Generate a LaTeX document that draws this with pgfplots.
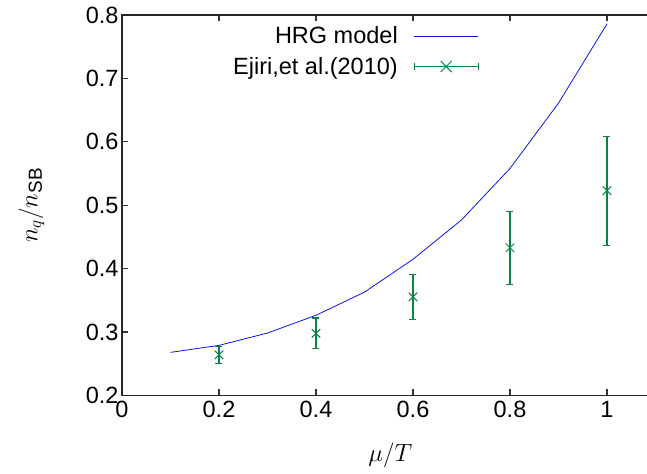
\documentclass[border=0pt]{standalone}
\usepackage{pgfplots}
\pgfplotsset{compat=1.18}
\usepackage{amsmath}
\usepackage{fontspec}
\setmainfont{Liberation Sans}
\definecolor{hrg}{RGB}{10,20,235}
\definecolor{ejg}{RGB}{10,130,70}
\begin{document}
\begin{tikzpicture}
\begin{axis}[name=ax, scale only axis, width=526.2pt, height=380.5pt,
  xmin=0, xmax=1.08498, ymin=0.2, ymax=0.8,
  xtick pos=both, ytick pos=left,
  axis line style={line width=1.1pt, black!85},
  tick align=inside, major tick length=6pt,
  tick style={line width=1.2pt, black!80},
  xtick={0,0.2,0.4,0.6,0.8,1}, ytick={0.2,0.3,0.4,0.5,0.6,0.7,0.8},
  /pgf/number format/assume math mode=true,
  /pgf/number format/fixed,
  tick label style={font=\fontsize{23.5}{23.5}\selectfont},
  xticklabel style={yshift=-2pt},
  label style={font=\fontsize{27}{27}\selectfont},
  xlabel={$\mu/T$}, ylabel={$n_q/n_{\text{SB}}$},
  xlabel style={at={(axis description cs:0.51,-0.158)}, anchor=center},
  ylabel style={at={(axis description cs:-0.172,0.5)}, anchor=center},
  legend plot pos=right, legend cell align=right,
  legend style={draw=none, fill=none, font=\fontsize{23.5}{23.5}\selectfont,
    at={(axis cs:0.742,0.788)}, anchor=north east, row sep=8pt},
]
\addplot[hrg, line width=0.8pt, mark=none,
  legend image code/.code={\path (0pt,0pt); \draw[hrg, line width=0.8pt] (14pt,0pt) -- (78pt,0pt);}]
  coordinates {(0.1,0.268)(0.2,0.279)(0.3,0.2985)(0.4,0.3265)(0.5,0.363)(0.6,0.4148)(0.7,0.4768)(0.8,0.558)(0.9,0.661)(1.0,0.786)};
\addlegendentry{HRG model}
\addplot[color=ejg, only marks, mark=x, mark size=6pt, mark options={line width=1pt, ejg},
  legend image code/.code={%
    \path (0pt,0pt);
    \draw[ejg, line width=1pt] (14pt,0pt)--(78pt,0pt) (14pt,-3.5pt)--(14pt,3.5pt) (78pt,-3.5pt)--(78pt,3.5pt);
    \draw[ejg, line width=1pt] (40.5pt,-5.5pt)--(51.5pt,5.5pt) (40.5pt,5.5pt)--(51.5pt,-5.5pt);}]
  coordinates {(0.2,0.264)(0.4,0.298)(0.6,0.3555)(0.8,0.433)(1.0,0.523)};
\addlegendentry{Ejiri,et al.(2010)}
% error bars: lower and upper ends
\addplot[ejg, line width=1.1pt, mark=-, mark size=3.5pt, mark options={solid, ejg}, forget plot] coordinates {(0.2,0.2503)(0.2,0.2777)};
\addplot[ejg, line width=1.1pt, mark=-, mark size=3.5pt, mark options={solid, ejg}, forget plot] coordinates {(0.4,0.2738)(0.4,0.3222)};
\addplot[ejg, line width=1.1pt, mark=-, mark size=3.5pt, mark options={solid, ejg}, forget plot] coordinates {(0.6,0.3200)(0.6,0.3910)};
\addplot[ejg, line width=1.1pt, mark=-, mark size=3.5pt, mark options={solid, ejg}, forget plot] coordinates {(0.8,0.3755)(0.8,0.4905)};
\addplot[ejg, line width=1.1pt, mark=-, mark size=3.5pt, mark options={solid, ejg}, forget plot] coordinates {(1.0,0.4370)(1.0,0.6090)};
\end{axis}
\path (ax.south west) ++(-122pt,-78.5pt) coordinate (bl);
\path (ax.north east) ++(-1.2pt,15pt) coordinate (tr);
\pgfresetboundingbox
\path[use as bounding box] (bl) rectangle (tr);
\end{tikzpicture}
\end{document}
